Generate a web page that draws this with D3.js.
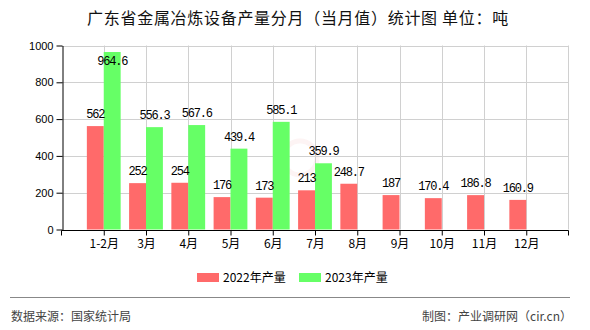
<!DOCTYPE html>
<html>
<head>
<meta charset="utf-8">
<script src="https://cdn.jsdelivr.net/npm/d3@7"></script>
<style>
  html, body { margin: 0; padding: 0; background: #fff; }
  svg { display: block; }
</style>
</head>
<body>
<svg id="chart" width="590" height="330"></svg>
<script>
// Monthly output of metallurgical equipment, Guangdong (tonnes)
const categories = ["1-2月", "3月", "4月", "5月", "6月", "7月", "8月", "9月", "10月", "11月", "12月"];
const values2022 = [562, 252, 254, 176, 173, 213, 248.7, 187, 170.4, 186.8, 160.9];
const values2023 = [964.6, 556.3, 567.6, 439.4, 585.1, 359.9, null, null, null, null, null];
const seriesNames = ["2022年产量", "2023年产量"];
const yTicks = [0, 200, 400, 600, 800, 1000];

const colors = ["#ff6a6a", "#66ff66"];
const cjk = "'Noto Sans CJK SC', 'Noto Sans', sans-serif";
const mono = "'Liberation Mono', 'DejaVu Sans Mono', monospace";

const svg = d3.select("#chart");

const plot = { left: 61.5, right: 568.5, top: 45.5, bottom: 229.5 };

const x = d3.scalePoint().domain(categories).range([plot.left, plot.right]).padding(1);
const y = d3.scaleLinear().domain([0, 1000]).range([plot.bottom, plot.top]);
const barW = x.step() * 0.4;

// Title
svg.append("text")
  .attr("x", 298).attr("y", 24)
  .attr("text-anchor", "middle")
  .attr("font-family", cjk).attr("font-size", 16).attr("font-weight", 400)
  .attr("letter-spacing", 0.7)
  .attr("fill", "#111")
  .text("广东省金属冶炼设备产量分月（当月值）统计图 单位：吨");

// Faint site logo behind the bars
svg.append("circle").attr("cx", 300).attr("cy", 158).attr("r", 17)
  .attr("fill", "none").attr("stroke", "#e03030").attr("stroke-width", 5).attr("opacity", 0.05);

// Gridlines
const grid = svg.append("g").attr("stroke", "#d0d0d0").attr("stroke-width", 1);
grid.selectAll("line.h").data(yTicks.filter(d => d > 0)).join("line")
  .attr("x1", plot.left).attr("x2", plot.right)
  .attr("y1", d => Math.round(y(d)) + 0.5).attr("y2", d => Math.round(y(d)) + 0.5);
grid.selectAll("line.v").data(categories).join("line")
  .attr("x1", d => Math.round(x(d)) + 0.5).attr("x2", d => Math.round(x(d)) + 0.5)
  .attr("y1", plot.top).attr("y2", plot.bottom);
grid.append("line")
  .attr("x1", plot.right).attr("x2", plot.right)
  .attr("y1", plot.top).attr("y2", plot.bottom);

// Bars
const rows = categories.map((c, i) => ({ c, v: [values2022[i], values2023[i]] }));
[0, 1].forEach(s => {
  svg.append("g").attr("fill", colors[s])
    .selectAll("rect")
    .data(rows.filter(r => r.v[s] != null))
    .join("rect")
    .attr("x", r => x(r.c) - barW + s * barW)
    .attr("width", barW)
    .attr("y", r => y(r.v[s]))
    .attr("height", r => y(0) - y(r.v[s]));
});

// Value labels: above the bar, dropped inside it when it would leave the plot
[0, 1].forEach(s => {
  svg.append("g")
    .selectAll("text")
    .data(rows.filter(r => r.v[s] != null))
    .join("text")
    .attr("x", r => x(r.c) - barW / 2 + s * barW)
    .attr("y", r => {
      const base = y(r.v[s]) - 8;
      return base - 9 < plot.top ? plot.top + 19 : base;
    })
    .attr("text-anchor", "middle")
    .attr("font-family", mono).attr("font-size", 12).attr("letter-spacing", -1.2)
    .attr("fill", "#000")
    .text(r => String(r.v[s]));
});

// Y axis
const yAxis = svg.append("g")
  .attr("transform", `translate(${Math.round(plot.left) + 0.5},0)`)
  .call(d3.axisLeft(y).tickValues(yTicks).tickFormat(d3.format("d"))
    .tickSize(6).tickPadding(3).tickSizeOuter(0));
yAxis.select(".domain").attr("stroke", "#000");
yAxis.selectAll(".tick line").attr("stroke", "#000");
yAxis.selectAll(".tick text")
  .attr("font-family", "'Liberation Sans', Arial, sans-serif").attr("font-size", 11).attr("fill", "#000");

// X axis
const xAxis = svg.append("g")
  .attr("transform", `translate(0,${Math.round(plot.bottom) + 0.5})`)
  .call(d3.axisBottom(x).tickSize(5).tickPadding(4).tickSizeOuter(0));
xAxis.select(".domain").attr("stroke", "#000")
  .attr("d", `M${plot.left},0H${plot.right}`);
xAxis.selectAll(".tick line").attr("stroke", "#000");
xAxis.selectAll(".tick text")
  .attr("font-family", cjk).attr("font-size", 12).attr("fill", "#000");
[plot.left, plot.right].forEach(px => {
  xAxis.append("line").attr("x1", px).attr("x2", px).attr("y1", 0).attr("y2", 5).attr("stroke", "#000");
});

// Legend
const legendItems = [
  { name: seriesNames[0], color: colors[0], x: 197 },
  { name: seriesNames[1], color: colors[1], x: 299 }
];
const lg = svg.append("g");
legendItems.forEach(it => {
  lg.append("rect").attr("x", it.x).attr("y", 273).attr("width", 22).attr("height", 9).attr("fill", it.color);
  lg.append("text").attr("x", it.x + 26).attr("y", 282)
    .attr("font-family", cjk).attr("font-size", 12).attr("fill", "#000")
    .text(it.name);
});

// Footer
svg.append("line").attr("x1", 10).attr("x2", 570).attr("y1", 297.5).attr("y2", 297.5)
  .attr("stroke", "#888").attr("stroke-width", 1);
svg.append("text").attr("x", 11).attr("y", 321)
  .attr("font-family", cjk).attr("font-size", 12).attr("fill", "#444")
  .text("数据来源：国家统计局");
svg.append("text").attr("x", 572).attr("y", 321).attr("text-anchor", "end")
  .attr("font-family", cjk).attr("font-size", 12).attr("fill", "#444")
  .text("制图：产业调研网（cir.cn）");
</script>
</body>
</html>
